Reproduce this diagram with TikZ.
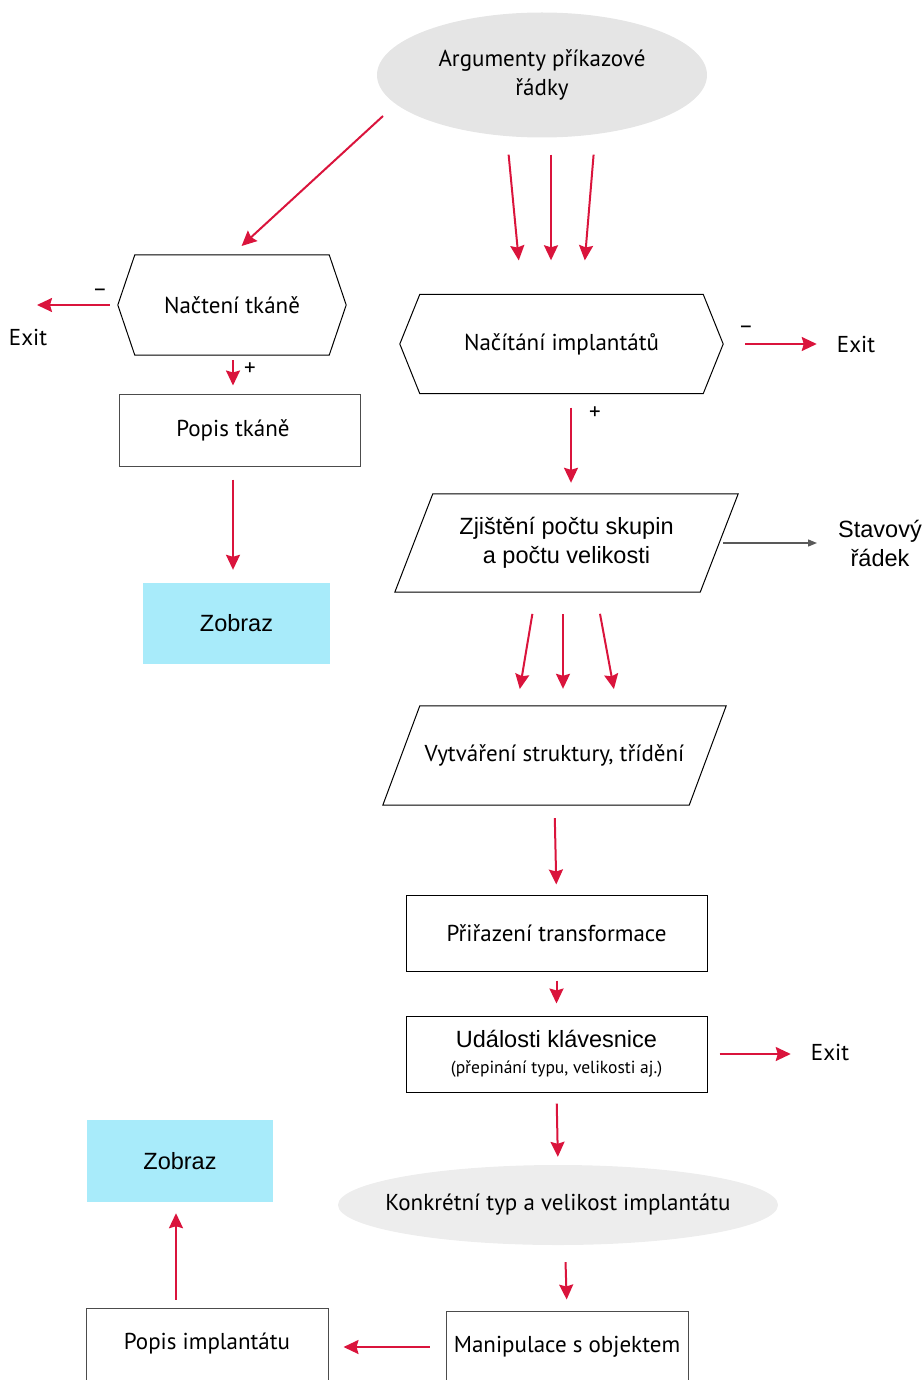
\documentclass[tikz,border=0pt]{standalone}
\usepackage{fontspec}
\usepackage{tikz}
\usepackage{xcolor}
\setmainfont{PT Sans}
\newfontfamily\arialfont{Liberation Sans}
\usetikzlibrary{arrows.meta,shapes.geometric}

\definecolor{arrowred}{RGB}{218,20,60}
\definecolor{ovalgray}{RGB}{229,229,229}
\definecolor{showcyan}{RGB}{168,235,250}

\tikzset{
  flow/.style={arrowred, line width=2pt, -{Stealth[length=15pt,width=14pt,inset=2pt]}},
  greyflow/.style={black!65, line width=1.3pt, -{Triangle[length=9pt,width=7pt]}},
  box/.style={draw=black!70, line width=1pt, minimum width=241pt, minimum height=72pt, inner sep=0pt},
  darkbox/.style={box, draw=black, minimum width=301pt, minimum height=76pt},
  frame/.style={inner sep=0pt},
  oval/.style={ellipse, fill=ovalgray, inner sep=0pt},
  showbox/.style={fill=showcyan, minimum width=187pt, minimum height=81pt, inner sep=0pt,
    font=\arialfont\fontsize{23.5}{28}\selectfont},
  sign/.style={text=black, inner sep=0pt},
  atxt/.style={inner sep=0pt, align=center, font=\arialfont\fontsize{23.5}{29}\selectfont},
}

\newcommand{\hexframe}[2]{%
  \draw[line width=1pt] ([xshift=#2]#1.north west) -- ([xshift=-#2]#1.north east)
    -- (#1.east) -- ([xshift=-#2]#1.south east) -- ([xshift=#2]#1.south west)
    -- (#1.west) -- cycle;}
\newcommand{\slantframe}[2]{%
  \draw[line width=1pt] ([xshift=#2]#1.north west) -- (#1.north east)
    -- ([xshift=-#2]#1.south east) -- (#1.south west) -- cycle;}

\begin{document}
\begin{tikzpicture}[x=1pt,y=-1pt,font=\fontsize{23}{29}\selectfont]
  \useasboundingbox (0,0) rectangle (923,1380);
  \clip (0,0) rectangle (923,1380);

  % top
  \node[oval, minimum width=330pt, minimum height=125pt, align=center] (args) at (542,75)
    {Argumenty příkazové\\řádky};

  % left branch
  \node[frame, minimum width=228pt, minimum height=100pt] (tissue) at (232,305) {Načtení tkáně};
  \hexframe{tissue}{17pt}
  \node[inner sep=0pt] (exitL) at (28,337) {Exit};
  \coordinate (exitLend) at (37,305);
  \node[box] (tissuedesc) at (239.5,430) {\hspace*{-13pt}Popis tkáně};
  \node[showbox] (showA) at (236.5,623.5) {Zobraz};

  % right branch
  \node[frame, minimum width=323pt, minimum height=99pt] (impl) at (561.5,344) {Načítání implantátů};
  \hexframe{impl}{20pt}
  \node[inner sep=0pt] (exitR) at (856,344) {Exit};
  \node[frame, minimum width=343pt, minimum height=98pt, align=center,
    font=\arialfont\fontsize{23.5}{29}\selectfont] (count) at (566.5,543)
    {Zjištění počtu skupin\\a počtu velikosti};
  \slantframe{count}{38pt}
  \node[atxt] (status) at (880,543) {Stavový\\řádek};
  \node[frame, minimum width=343pt, minimum height=99pt] (sorting) at (554.5,755.5)
    {Vytváření struktury, třídění};
  \slantframe{sorting}{37pt}
  \node[darkbox] (transform) at (556.5,933) {Přiřazení transformace};
  \node[darkbox, align=center, font=\arialfont\fontsize{23.5}{26}\selectfont] (keys) at (556.5,1054)
    {Události klávesnice\\{\fontspec{PT Sans}\fontsize{17.5}{20}\selectfont(přepinání typu, velikosti aj.)}};
  \node[inner sep=0pt] (exitK) at (830,1052) {Exit};
  \node[oval, fill=ovalgray!70, inner xsep=-17pt, minimum width=440pt, minimum height=80pt] (choice) at (558,1205)
    {Konkrétní typ a velikost implantátu};
  \node[box, minimum width=242pt] (manip) at (567,1347) {Manipulace s objektem};
  \node[box, minimum width=242pt] (implantdesc) at (207,1344) {Popis implantátu};
  \node[showbox, minimum width=186pt, minimum height=82pt] (showB) at (180,1161) {Zobraz};

  % connectors
  \coordinate (argsleft) at (383,116);
  \draw[flow, shorten >=13pt] (argsleft) -- (tissue.north);
  \foreach \a/\b in {-35/-39.5, 9/-10.5, 53/20.5}
    \draw[flow, shorten <=17pt, shorten >=34pt] ([xshift=\a pt]args.south) -- ([xshift=\b pt]impl.north);
  \draw[flow, shorten <=8pt] (tissue.west) -- (exitLend) node[sign, pos=0.22, above=8pt] {–};
  \draw[flow, shorten <=5pt, shorten >=8pt] ([xshift=1pt]tissue.south) -- ([xshift=-6.5pt]tissuedesc.north)
    node[sign, pos=0.37, right=10pt] {+};
  \draw[flow, shorten <=13pt, shorten >=13pt] ([xshift=-6.5pt]tissuedesc.south) -- ([xshift=-3.5pt]showA.north);
  \draw[flow, shorten <=22pt, shorten >=20pt] (impl.east) -- (exitR.west)
    node[sign, pos=0.2, above=10pt] {–};
  \draw[flow, shorten <=14pt, shorten >=11pt] ([xshift=9.5pt]impl.south) -- ([xshift=4.5pt]count.north)
    node[sign, pos=0.19, right=17pt] {+};
  \draw[greyflow, shorten <=4pt, shorten >=21pt] ([xshift=-19pt]count.east) -- (status.west);
  \foreach \a/\b in {-30.5/-37.5, -3.5/8.5, 29.5/62.5}
    \draw[flow, shorten <=22pt, shorten >=17pt] ([xshift=\a pt]count.south) -- ([xshift=\b pt]sorting.north);
  \draw[flow, shorten <=13pt, shorten >=10pt] (sorting.south) -- (transform.north);
  \draw[flow, shorten <=9pt, shorten >=12pt] (transform.south) -- (keys.north);
  \draw[flow, shorten <=12pt, shorten >=20pt] (keys.east) -- (keys.east -| exitK.west);
  \draw[flow, shorten <=11pt, shorten >=8pt] (keys.south) -- (choice.north);
  \draw[flow, shorten <=17pt, shorten >=11pt] ([xshift=7pt]choice.south) -- (manip.north);
  \draw[flow, shorten <=16pt, shorten >=15pt] (manip.west) -- (manip.west -| implantdesc.east);
  \draw[flow, shorten <=8pt, shorten >=11pt] ([xshift=-31pt]implantdesc.north) -- ([xshift=-4pt]showB.south);
\end{tikzpicture}
\end{document}
